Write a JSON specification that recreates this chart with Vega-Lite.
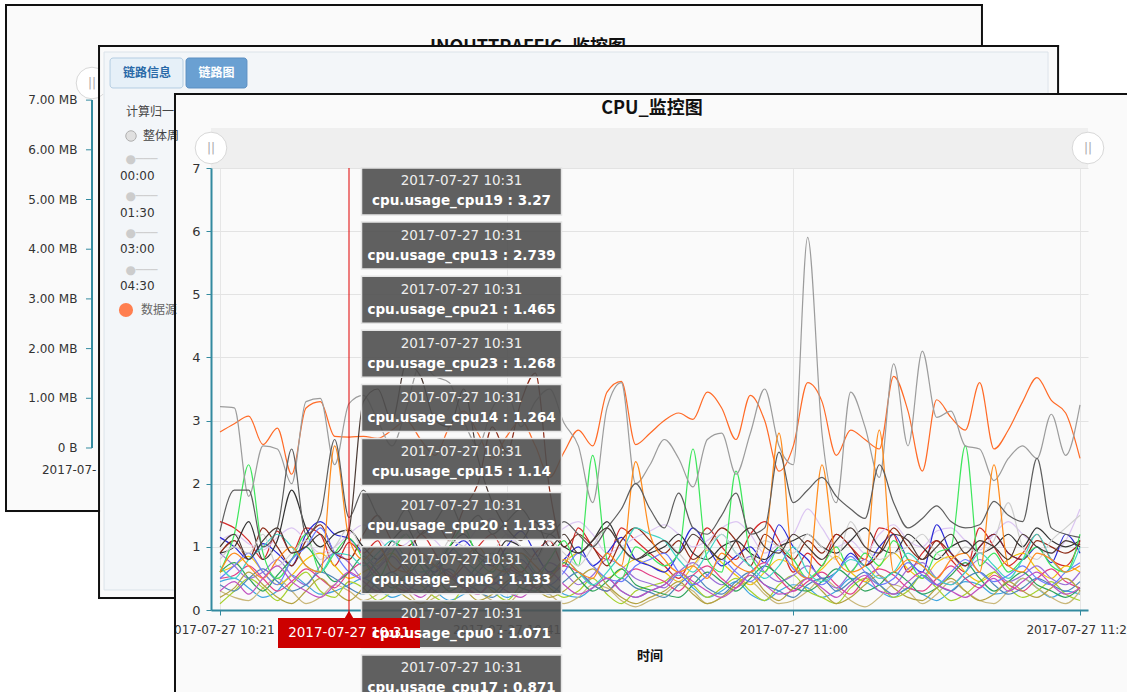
{
"$schema": "https://vega.github.io/schema/vega-lite/v6.json",
"width": 877,
"height": 442,
"autosize": {"type": "none"},
"padding": {"left": 211, "top": 168, "right": 39, "bottom": 82},
"background": "#fafafa",
"config": {"view": {"stroke": null}, "font": "DejaVu Sans"},
"data": {"values": [{}]},
"resolve": {"scale": {"y": "independent"}},
"layer": [
{"layer": [
  {"mark": {"type": "rect", "fill": "#ffffff"}, "encoding": {"x": {"datum": 53.23}, "x2": {"datum": 64}, "y": {"datum": 9.9, "scale": {"domain": [0, 7], "nice": false, "zero": false}, "axis": null}, "y2": {"datum": 8.948}}},
  {"mark": {"type": "rect", "fill": "#ffffff"}, "encoding": {"x": {"datum": 58.54}, "x2": {"datum": 64}, "y": {"datum": 9.9}, "y2": {"datum": 8.19}}},
  {"mark": {"type": "rect", "fill": "#ffffff"}, "encoding": {"x": {"datum": -16}, "x2": {"datum": -8.51}, "y": {"datum": 1.536}, "y2": {"datum": -1.6}}},
  {"mark": {"type": "rect", "fill": "#ffffff"}, "encoding": {"x": {"datum": -8.51}, "x2": {"datum": -3.21}, "y": {"datum": 0.158}, "y2": {"datum": -1.6}}},
  {"mark": {"type": "rect", "fill": "#ffffff"}, "encoding": {"x": {"datum": -16}, "x2": {"datum": 64}, "y": {"datum": 9.9}, "y2": {"datum": 9.597}}},
  {"mark": {"type": "rect", "fill": "#ffffff"}, "encoding": {"x": {"datum": -16}, "x2": {"datum": -15.0}, "y": {"datum": 9.9}, "y2": {"datum": -1.6}}},
  {"mark": {"type": "rule", "color": "#111111", "strokeWidth": 2, "strokeCap": "square"}, "encoding": {"x": {"datum": -14.93}, "x2": {"datum": 53.16}, "y": {"datum": 9.581}}},
  {"mark": {"type": "rule", "color": "#111111", "strokeWidth": 2, "strokeCap": "square"}, "encoding": {"x": {"datum": -14.93}, "y": {"datum": 9.581}, "y2": {"datum": 1.568}}},
  {"mark": {"type": "rule", "color": "#111111", "strokeWidth": 2, "strokeCap": "square"}, "encoding": {"x": {"datum": -14.93}, "x2": {"datum": -8.44}, "y": {"datum": 1.568}}},
  {"mark": {"type": "rule", "color": "#111111", "strokeWidth": 2, "strokeCap": "square"}, "encoding": {"x": {"datum": 53.16}, "y": {"datum": 9.581}, "y2": {"datum": 8.932}}}
]},
{"layer": [
  {"data": {"values": [{"mb": 0, "lab": "0 B"}, {"mb": 1, "lab": "1.00 MB"}, {"mb": 2, "lab": "2.00 MB"}, {"mb": 3, "lab": "3.00 MB"}, {"mb": 4, "lab": "4.00 MB"}, {"mb": 5, "lab": "5.00 MB"}, {"mb": 6, "lab": "6.00 MB"}, {"mb": 7, "lab": "7.00 MB"}]},
   "layer": [
    {"mark": {"type": "text", "align": "right", "baseline": "middle", "fontSize": 12, "font": "DejaVu Sans", "color": "#333333"},
     "encoding": {"x": {"datum": -9.95}, "y": {"field": "mb", "type": "quantitative", "scale": {"domain": [-3.26, 5.634], "nice": false, "zero": false}, "axis": null}, "text": {"field": "lab"}}},
    {"mark": {"type": "rule", "color": "#338a9f", "strokeWidth": 1},
     "encoding": {"x": {"datum": -9.35}, "x2": {"datum": -8.93}, "y": {"field": "mb", "type": "quantitative"}}}
   ]},
  {"mark": {"type": "rule", "color": "#338a9f", "strokeWidth": 2}, "encoding": {"x": {"datum": -8.93}, "y": {"datum": 0}, "y2": {"datum": 7}}},
  {"mark": {"type": "point", "shape": "circle", "size": 1000, "filled": true, "fill": "#ffffff", "stroke": "#d8d8d8", "strokeWidth": 1, "opacity": 1}, "encoding": {"x": {"datum": -8.93}, "y": {"datum": 7.344}}},
  {"mark": {"type": "text", "text": "||", "fontSize": 12, "color": "#aaaaaa", "align": "center", "baseline": "middle"}, "encoding": {"x": {"datum": -8.93}, "y": {"datum": 7.344}}},
  {"mark": {"type": "text", "text": "2017-07-", "fontSize": 12, "color": "#333333", "align": "left", "baseline": "middle"}, "encoding": {"x": {"datum": -12.42}, "y": {"datum": -0.443}}},
  {"mark": {"type": "text", "text": "INOUTTRAFFIC_监控图", "font": "Noto Sans CJK SC", "fontSize": 18, "fontWeight": "bold", "color": "#111111", "align": "center", "baseline": "alphabetic"}, "encoding": {"x": {"datum": 21.49}, "y": {"datum": 7.95}}}
]},
{"layer": [
  {"mark": {"type": "rect", "fill": "#fafafa"},
   "encoding": {"x": {"datum": -8.44}, "x2": {"datum": 58.47}, "y": {"datum": 8.932, "scale": {"domain": [0, 7], "nice": false, "zero": false}}, "y2": {"datum": 8.172}}},
  {"mark": {"type": "rect", "fill": "#f3f6f9"},
   "encoding": {"x": {"datum": -8.09}, "x2": {"datum": 57.77}, "y": {"datum": 8.837}, "y2": {"datum": 8.172}}},
  {"mark": {"type": "rect", "fill": "#f3f6f9"},
   "encoding": {"x": {"datum": -8.09}, "x2": {"datum": -3.14}, "y": {"datum": 8.172}, "y2": {"datum": 0.317}}},
  {"mark": {"type": "rule", "color": "#dce3ea", "strokeWidth": 1}, "encoding": {"x": {"datum": -8.09}, "x2": {"datum": 57.77}, "y": {"datum": 8.837}}},
  {"mark": {"type": "rule", "color": "#dce3ea", "strokeWidth": 1}, "encoding": {"x": {"datum": -8.09}, "y": {"datum": 8.837}, "y2": {"datum": 0.317}}},
  {"mark": {"type": "rule", "color": "#dce3ea", "strokeWidth": 1}, "encoding": {"x": {"datum": -8.09}, "x2": {"datum": -3.14}, "y": {"datum": 0.317}}},
  {"mark": {"type": "rule", "color": "#dce3ea", "strokeWidth": 1}, "encoding": {"x": {"datum": 57.77}, "y": {"datum": 8.837}, "y2": {"datum": 8.172}}},
  {"mark": {"type": "rect", "fill": "#e6f0f8", "stroke": "#b4cde2", "strokeWidth": 1, "cornerRadius": 3},
   "encoding": {"x": {"datum": -7.67}, "x2": {"datum": -2.58}, "y": {"datum": 8.742}, "y2": {"datum": 8.267}}},
  {"mark": {"type": "rect", "fill": "#6aa0d2", "stroke": "#5b8fc2", "strokeWidth": 1, "cornerRadius": 3},
   "encoding": {"x": {"datum": -2.37}, "x2": {"datum": 1.88}, "y": {"datum": 8.742}, "y2": {"datum": 8.267}}},
  {"mark": {"type": "text", "text": "链路信息", "font": "Noto Sans CJK SC", "fontSize": 12, "fontWeight": "bold", "color": "#2a6aa8", "align": "center", "baseline": "middle"}, "encoding": {"x": {"datum": -5.09}, "y": {"datum": 8.505}}},
  {"mark": {"type": "text", "text": "链路图", "font": "Noto Sans CJK SC", "fontSize": 12, "fontWeight": "bold", "color": "#ffffff", "align": "center", "baseline": "middle"}, "encoding": {"x": {"datum": -0.24}, "y": {"datum": 8.505}}},
  {"mark": {"type": "text", "text": "计算归一", "font": "Noto Sans CJK SC", "fontSize": 12, "color": "#444444", "align": "left", "baseline": "middle"}, "encoding": {"x": {"datum": -6.56}, "y": {"datum": 7.887}}},
  {"mark": {"type": "point", "shape": "circle", "size": 110, "filled": true, "fill": "#e0e0e0", "stroke": "#b0b0b0", "strokeWidth": 1, "opacity": 1}, "encoding": {"x": {"datum": -6.21}, "y": {"datum": 7.507}}},
  {"mark": {"type": "text", "text": "整体周", "font": "Noto Sans CJK SC", "fontSize": 12, "color": "#444444", "align": "left", "baseline": "middle"}, "encoding": {"x": {"datum": -5.37}, "y": {"datum": 7.507}}},
  {"mark": {"type": "text", "text": "●───\n●───\n●───\n●───", "lineBreak": "\n", "lineHeight": 37, "font": "DejaVu Sans", "fontSize": 12, "color": "#cccccc", "align": "left", "baseline": "middle"}, "encoding": {"x": {"datum": -6.6}, "y": {"datum": 7.143}}},
  {"mark": {"type": "text", "text": "00:00\n01:30\n03:00\n04:30", "lineBreak": "\n", "lineHeight": 36.7, "font": "DejaVu Sans", "fontSize": 12, "color": "#333333", "align": "left", "baseline": "middle"}, "encoding": {"x": {"datum": -6.98}, "y": {"datum": 6.873}}},
  {"mark": {"type": "point", "shape": "circle", "size": 200, "filled": true, "fill": "#ff7f50", "opacity": 1}, "encoding": {"x": {"datum": -6.56}, "y": {"datum": 4.751}}},
  {"mark": {"type": "text", "text": "数据源", "font": "Noto Sans CJK SC", "fontSize": 12, "color": "#666666", "align": "left", "baseline": "middle"}, "encoding": {"x": {"datum": -5.51}, "y": {"datum": 4.751}}},
  {"mark": {"type": "rule", "color": "#111111", "strokeWidth": 2, "strokeCap": "square"}, "encoding": {"x": {"datum": -8.44}, "x2": {"datum": 58.47}, "y": {"datum": 8.932}}},
  {"mark": {"type": "rule", "color": "#111111", "strokeWidth": 2, "strokeCap": "square"}, "encoding": {"x": {"datum": -8.44}, "y": {"datum": 8.932}, "y2": {"datum": 0.19}}},
  {"mark": {"type": "rule", "color": "#111111", "strokeWidth": 2, "strokeCap": "square"}, "encoding": {"x": {"datum": -8.44}, "x2": {"datum": -3.14}, "y": {"datum": 0.19}}},
  {"mark": {"type": "rule", "color": "#111111", "strokeWidth": 2, "strokeCap": "square"}, "encoding": {"x": {"datum": 58.47}, "y": {"datum": 8.932}, "y2": {"datum": 8.172}}},
  {"mark": {"type": "rule", "color": "#111111", "strokeWidth": 2, "strokeCap": "square"}, "encoding": {"x": {"datum": -3.14}, "x2": {"datum": 64}, "y": {"datum": 8.172}}},
  {"mark": {"type": "rule", "color": "#111111", "strokeWidth": 2, "strokeCap": "square"}, "encoding": {"x": {"datum": -3.14}, "y": {"datum": 8.172}, "y2": {"datum": -1.6}}},
  {"mark": {"type": "text", "text": "CPU_监控图", "font": "Noto Sans CJK SC", "fontSize": 18, "fontWeight": "bold", "color": "#111111", "align": "center", "baseline": "middle"}, "encoding": {"x": {"datum": 30.14}, "y": {"datum": 7.934}}},
  {"mark": {"type": "rect", "fill": "#efefef"},
   "encoding": {"x": {"datum": -0.628}, "x2": {"datum": 60.558}, "y": {"datum": 7.634}, "y2": {"datum": 7.0}}},
  {"mark": {"type": "point", "shape": "circle", "size": 1000, "filled": true, "fill": "#ffffff", "stroke": "#d8d8d8", "strokeWidth": 1, "opacity": 1}, "encoding": {"x": {"datum": -0.628}, "y": {"datum": 7.317}}},
  {"mark": {"type": "point", "shape": "circle", "size": 1000, "filled": true, "fill": "#ffffff", "stroke": "#d8d8d8", "strokeWidth": 1, "opacity": 1}, "encoding": {"x": {"datum": 60.558}, "y": {"datum": 7.317}}},
  {"mark": {"type": "text", "text": "||", "fontSize": 12, "color": "#aaaaaa", "align": "center", "baseline": "middle"}, "encoding": {"x": {"datum": -0.628}, "y": {"datum": 7.317}}},
  {"mark": {"type": "text", "text": "||", "fontSize": 12, "color": "#aaaaaa", "align": "center", "baseline": "middle"}, "encoding": {"x": {"datum": 60.558}, "y": {"datum": 7.317}}},
  {"data": {"values": [
{"i":0,"cpu0":1.4,"cpu1":0.45,"cpu2":1.1,"cpu3":0.6,"cpu4":0.3,"cpu5":0.1,"cpu6":1.15,"cpu7":0.5,"cpu8":0.9,"cpu9":0.6,"cpu10":0.4,"cpu11":0.2,"cpu12":0.9,"cpu13":2.82,"cpu14":0.9,"cpu15":0.6,"cpu16":0.5,"cpu17":0.7,"cpu18":0.8,"cpu19":3.22,"cpu20":0.6,"cpu21":1.25,"cpu22":0.3,"cpu23":1.0},
{"i":1,"cpu0":1.3,"cpu1":0.5,"cpu2":1.2,"cpu3":0.7,"cpu4":0.2,"cpu5":0.3,"cpu6":1.0,"cpu7":0.55,"cpu8":0.7,"cpu9":0.75,"cpu10":0.3,"cpu11":0.35,"cpu12":1.1,"cpu13":2.95,"cpu14":1.0,"cpu15":1.2,"cpu16":0.7,"cpu17":0.5,"cpu18":1.0,"cpu19":3.2,"cpu20":0.9,"cpu21":1.9,"cpu22":0.45,"cpu23":1.2},
{"i":2,"cpu0":1.1,"cpu1":0.35,"cpu2":1.05,"cpu3":0.85,"cpu4":0.15,"cpu5":0.5,"cpu6":0.8,"cpu7":0.7,"cpu8":0.5,"cpu9":0.5,"cpu10":0.5,"cpu11":0.6,"cpu12":0.8,"cpu13":3.07,"cpu14":1.4,"cpu15":2.3,"cpu16":0.9,"cpu17":0.8,"cpu18":0.9,"cpu19":1.8,"cpu20":0.7,"cpu21":1.9,"cpu22":0.25,"cpu23":0.8},
{"i":3,"cpu0":0.8,"cpu1":0.2,"cpu2":0.95,"cpu3":0.6,"cpu4":0.35,"cpu5":0.35,"cpu6":1.05,"cpu7":0.5,"cpu8":0.6,"cpu9":0.3,"cpu10":0.65,"cpu11":0.4,"cpu12":1.3,"cpu13":2.62,"cpu14":0.8,"cpu15":0.9,"cpu16":0.6,"cpu17":1.0,"cpu18":1.2,"cpu19":2.6,"cpu20":0.5,"cpu21":1.0,"cpu22":0.5,"cpu23":1.1},
{"i":4,"cpu0":1.25,"cpu1":0.3,"cpu2":1.15,"cpu3":0.4,"cpu4":0.5,"cpu5":0.15,"cpu6":0.9,"cpu7":0.3,"cpu8":0.8,"cpu9":0.55,"cpu10":0.45,"cpu11":0.2,"cpu12":1.0,"cpu13":2.88,"cpu14":1.1,"cpu15":0.5,"cpu16":0.4,"cpu17":1.2,"cpu18":0.7,"cpu19":2.55,"cpu20":0.8,"cpu21":1.3,"cpu22":0.7,"cpu23":1.3},
{"i":5,"cpu0":0.9,"cpu1":0.55,"cpu2":1.3,"cpu3":0.55,"cpu4":0.3,"cpu5":0.4,"cpu6":0.7,"cpu7":0.45,"cpu8":0.55,"cpu9":0.8,"cpu10":0.3,"cpu11":0.1,"cpu12":0.7,"cpu13":2.15,"cpu14":1.9,"cpu15":0.8,"cpu16":0.8,"cpu17":1.0,"cpu18":0.9,"cpu19":2.0,"cpu20":1.0,"cpu21":2.55,"cpu22":0.45,"cpu23":0.9},
{"i":6,"cpu0":1.3,"cpu1":0.4,"cpu2":1.1,"cpu3":0.8,"cpu4":0.1,"cpu5":0.6,"cpu6":1.2,"cpu7":0.65,"cpu8":0.4,"cpu9":1.0,"cpu10":0.4,"cpu11":0.3,"cpu12":1.1,"cpu13":3.2,"cpu14":1.3,"cpu15":1.2,"cpu16":1.0,"cpu17":0.7,"cpu18":1.1,"cpu19":3.3,"cpu20":0.7,"cpu21":1.2,"cpu22":0.3,"cpu23":1.0},
{"i":7,"cpu0":1.2,"cpu1":0.25,"cpu2":0.9,"cpu3":0.9,"cpu4":0.2,"cpu5":0.3,"cpu6":1.4,"cpu7":0.5,"cpu8":0.7,"cpu9":0.7,"cpu10":0.6,"cpu11":0.5,"cpu12":1.35,"cpu13":3.3,"cpu14":1.0,"cpu15":0.6,"cpu16":1.3,"cpu17":0.6,"cpu18":0.8,"cpu19":3.35,"cpu20":0.6,"cpu21":1.5,"cpu22":0.2,"cpu23":1.2},
{"i":8,"cpu0":0.7,"cpu1":0.3,"cpu2":1.0,"cpu3":0.7,"cpu4":0.4,"cpu5":0.2,"cpu6":1.2,"cpu7":0.35,"cpu8":0.9,"cpu9":0.45,"cpu10":0.5,"cpu11":0.3,"cpu12":0.9,"cpu13":2.75,"cpu14":1.2,"cpu15":0.9,"cpu16":0.9,"cpu17":0.9,"cpu18":1.0,"cpu19":2.3,"cpu20":2.6,"cpu21":2.7,"cpu22":0.4,"cpu23":0.9},
{"i":9,"cpu0":1.071,"cpu1":0.4,"cpu2":1.2,"cpu3":0.5,"cpu4":0.3,"cpu5":0.45,"cpu6":1.133,"cpu7":0.6,"cpu8":0.75,"cpu9":0.6,"cpu10":0.35,"cpu11":0.15,"cpu12":0.8,"cpu13":2.739,"cpu14":1.264,"cpu15":1.14,"cpu16":0.6,"cpu17":0.871,"cpu18":1.3,"cpu19":3.27,"cpu20":1.133,"cpu21":1.465,"cpu22":0.6,"cpu23":1.268},
{"i":10,"cpu0":0.9,"cpu1":0.5,"cpu2":1.35,"cpu3":0.6,"cpu4":0.15,"cpu5":0.35,"cpu6":0.9,"cpu7":0.75,"cpu8":0.5,"cpu9":0.85,"cpu10":0.25,"cpu11":0.35,"cpu12":1.2,"cpu13":2.75,"cpu14":1.0,"cpu15":0.8,"cpu16":0.5,"cpu17":0.7,"cpu18":0.9,"cpu19":3.4,"cpu20":0.8,"cpu21":1.9,"cpu22":0.45,"cpu23":3.3},
{"i":11,"cpu0":1.1,"cpu1":0.35,"cpu2":1.15,"cpu3":0.75,"cpu4":0.25,"cpu5":0.15,"cpu6":0.7,"cpu7":0.55,"cpu8":0.65,"cpu9":0.6,"cpu10":0.45,"cpu11":0.55,"cpu12":1.5,"cpu13":2.72,"cpu14":0.8,"cpu15":0.5,"cpu16":0.8,"cpu17":0.9,"cpu18":0.7,"cpu19":3.0,"cpu20":1.0,"cpu21":1.5,"cpu22":0.3,"cpu23":3.5},
{"i":12,"cpu0":0.6,"cpu1":0.2,"cpu2":0.95,"cpu3":0.9,"cpu4":0.45,"cpu5":0.3,"cpu6":1.0,"cpu7":0.4,"cpu8":0.85,"cpu9":0.35,"cpu10":0.6,"cpu11":0.4,"cpu12":1.1,"cpu13":2.85,"cpu14":1.1,"cpu15":0.9,"cpu16":1.0,"cpu17":1.1,"cpu18":1.0,"cpu19":2.6,"cpu20":0.7,"cpu21":1.3,"cpu22":0.5,"cpu23":3.0},
{"i":13,"cpu0":0.8,"cpu1":0.3,"cpu2":1.05,"cpu3":0.65,"cpu4":0.3,"cpu5":0.55,"cpu6":1.2,"cpu7":0.3,"cpu8":0.6,"cpu9":0.5,"cpu10":0.4,"cpu11":0.2,"cpu12":1.0,"cpu13":3.0,"cpu14":1.3,"cpu15":1.2,"cpu16":0.7,"cpu17":0.8,"cpu18":1.2,"cpu19":3.2,"cpu20":0.6,"cpu21":1.6,"cpu22":0.35,"cpu23":3.9},
{"i":14,"cpu0":1.2,"cpu1":0.45,"cpu2":1.25,"cpu3":0.45,"cpu4":0.1,"cpu5":0.4,"cpu6":0.8,"cpu7":0.5,"cpu8":0.45,"cpu9":0.75,"cpu10":0.3,"cpu11":0.1,"cpu12":1.2,"cpu13":2.7,"cpu14":0.9,"cpu15":0.7,"cpu16":0.5,"cpu17":0.6,"cpu18":0.9,"cpu19":3.9,"cpu20":0.9,"cpu21":1.2,"cpu22":0.2,"cpu23":3.7},
{"i":15,"cpu0":0.9,"cpu1":0.3,"cpu2":1.1,"cpu3":0.6,"cpu4":0.2,"cpu5":0.2,"cpu6":0.6,"cpu7":0.7,"cpu8":0.7,"cpu9":0.55,"cpu10":0.5,"cpu11":0.3,"cpu12":1.4,"cpu13":2.45,"cpu14":0.7,"cpu15":0.5,"cpu16":0.6,"cpu17":0.7,"cpu18":0.7,"cpu19":3.7,"cpu20":0.7,"cpu21":1.4,"cpu22":0.4,"cpu23":3.0},
{"i":16,"cpu0":0.5,"cpu1":0.15,"cpu2":0.9,"cpu3":0.85,"cpu4":0.35,"cpu5":0.1,"cpu6":0.9,"cpu7":0.6,"cpu8":0.55,"cpu9":0.3,"cpu10":0.65,"cpu11":0.5,"cpu12":1.1,"cpu13":2.9,"cpu14":1.0,"cpu15":1.0,"cpu16":0.9,"cpu17":1.0,"cpu18":1.1,"cpu19":3.6,"cpu20":0.5,"cpu21":1.7,"cpu22":0.55,"cpu23":2.9},
{"i":17,"cpu0":0.7,"cpu1":0.25,"cpu2":1.0,"cpu3":0.7,"cpu4":0.5,"cpu5":0.35,"cpu6":1.1,"cpu7":0.4,"cpu8":0.35,"cpu9":0.45,"cpu10":0.45,"cpu11":0.35,"cpu12":1.6,"cpu13":3.15,"cpu14":1.2,"cpu15":1.3,"cpu16":0.7,"cpu17":0.8,"cpu18":1.0,"cpu19":3.0,"cpu20":0.8,"cpu21":1.3,"cpu22":0.35,"cpu23":3.5},
{"i":18,"cpu0":1.0,"cpu1":0.4,"cpu2":1.3,"cpu3":0.5,"cpu4":0.3,"cpu5":0.5,"cpu6":0.85,"cpu7":0.25,"cpu8":0.6,"cpu9":0.7,"cpu10":0.3,"cpu11":0.15,"cpu12":2.0,"cpu13":2.8,"cpu14":0.9,"cpu15":0.8,"cpu16":0.5,"cpu17":0.6,"cpu18":0.8,"cpu19":2.6,"cpu20":1.0,"cpu21":1.5,"cpu22":0.25,"cpu23":2.4},
{"i":19,"cpu0":1.2,"cpu1":0.35,"cpu2":1.45,"cpu3":0.65,"cpu4":0.15,"cpu5":0.3,"cpu6":0.7,"cpu7":0.45,"cpu8":0.8,"cpu9":0.9,"cpu10":0.2,"cpu11":0.25,"cpu12":2.9,"cpu13":2.4,"cpu14":0.8,"cpu15":0.6,"cpu16":0.4,"cpu17":0.5,"cpu18":0.9,"cpu19":3.2,"cpu20":0.7,"cpu21":1.2,"cpu22":0.45,"cpu23":1.7},
{"i":20,"cpu0":0.8,"cpu1":0.2,"cpu2":1.2,"cpu3":0.8,"cpu4":0.1,"cpu5":0.15,"cpu6":1.0,"cpu7":0.65,"cpu8":0.65,"cpu9":0.6,"cpu10":0.4,"cpu11":0.45,"cpu12":2.5,"cpu13":2.75,"cpu14":1.1,"cpu15":0.9,"cpu16":0.6,"cpu17":0.7,"cpu18":1.2,"cpu19":3.45,"cpu20":0.6,"cpu21":1.4,"cpu22":0.3,"cpu23":1.3},
{"i":21,"cpu0":0.6,"cpu1":0.3,"cpu2":1.0,"cpu3":0.6,"cpu4":0.3,"cpu5":0.4,"cpu6":1.25,"cpu7":0.55,"cpu8":0.45,"cpu9":0.35,"cpu10":0.55,"cpu11":0.6,"cpu12":3.3,"cpu13":3.0,"cpu14":1.0,"cpu15":0.7,"cpu16":0.8,"cpu17":0.9,"cpu18":1.0,"cpu19":2.9,"cpu20":0.9,"cpu21":1.6,"cpu22":0.2,"cpu23":1.1},
{"i":22,"cpu0":0.9,"cpu1":0.5,"cpu2":0.95,"cpu3":0.4,"cpu4":0.45,"cpu5":0.6,"cpu6":0.9,"cpu7":0.35,"cpu8":0.55,"cpu9":0.3,"cpu10":0.35,"cpu11":0.35,"cpu12":3.75,"cpu13":2.6,"cpu14":0.8,"cpu15":0.5,"cpu16":0.55,"cpu17":0.6,"cpu18":0.8,"cpu19":3.3,"cpu20":0.7,"cpu21":1.3,"cpu22":0.4,"cpu23":1.4},
{"i":23,"cpu0":1.1,"cpu1":0.4,"cpu2":1.1,"cpu3":0.55,"cpu4":0.25,"cpu5":0.35,"cpu6":0.6,"cpu7":0.5,"cpu8":0.75,"cpu9":0.55,"cpu10":0.25,"cpu11":0.2,"cpu12":1.9,"cpu13":2.1,"cpu14":1.2,"cpu15":0.8,"cpu16":0.4,"cpu17":0.5,"cpu18":1.1,"cpu19":3.5,"cpu20":0.5,"cpu21":1.2,"cpu22":0.6,"cpu23":1.0},
{"i":24,"cpu0":0.7,"cpu1":0.25,"cpu2":1.3,"cpu3":0.75,"cpu4":0.1,"cpu5":0.2,"cpu6":0.8,"cpu7":0.7,"cpu8":0.6,"cpu9":0.75,"cpu10":0.45,"cpu11":0.3,"cpu12":1.0,"cpu13":2.5,"cpu14":1.0,"cpu15":1.1,"cpu16":0.6,"cpu17":0.8,"cpu18":0.9,"cpu19":2.96,"cpu20":0.8,"cpu21":1.4,"cpu22":0.4,"cpu23":1.2},
{"i":25,"cpu0":1.3,"cpu1":0.2,"cpu2":1.4,"cpu3":0.9,"cpu4":0.2,"cpu5":0.3,"cpu6":1.0,"cpu7":0.6,"cpu8":0.4,"cpu9":0.5,"cpu10":0.6,"cpu11":0.5,"cpu12":1.2,"cpu13":2.85,"cpu14":0.9,"cpu15":0.7,"cpu16":0.9,"cpu17":0.6,"cpu18":0.7,"cpu19":2.6,"cpu20":0.6,"cpu21":1.2,"cpu22":0.25,"cpu23":0.9},
{"i":26,"cpu0":1.0,"cpu1":0.35,"cpu2":1.2,"cpu3":0.7,"cpu4":0.4,"cpu5":0.5,"cpu6":0.7,"cpu7":0.4,"cpu8":0.55,"cpu9":0.3,"cpu10":0.4,"cpu11":0.65,"cpu12":1.0,"cpu13":2.6,"cpu14":1.1,"cpu15":2.45,"cpu16":0.7,"cpu17":0.4,"cpu18":1.0,"cpu19":1.7,"cpu20":0.5,"cpu21":1.0,"cpu22":0.35,"cpu23":1.1},
{"i":27,"cpu0":0.8,"cpu1":0.5,"cpu2":0.9,"cpu3":0.5,"cpu4":0.35,"cpu5":0.25,"cpu6":0.9,"cpu7":0.3,"cpu8":0.8,"cpu9":0.45,"cpu10":0.3,"cpu11":0.4,"cpu12":0.7,"cpu13":3.45,"cpu14":1.4,"cpu15":0.8,"cpu16":0.5,"cpu17":0.6,"cpu18":1.3,"cpu19":3.2,"cpu20":0.9,"cpu21":1.3,"cpu22":0.5,"cpu23":1.3},
{"i":28,"cpu0":1.3,"cpu1":0.3,"cpu2":1.0,"cpu3":0.65,"cpu4":0.15,"cpu5":0.1,"cpu6":1.15,"cpu7":0.5,"cpu8":0.7,"cpu9":0.65,"cpu10":0.5,"cpu11":0.2,"cpu12":1.1,"cpu13":3.62,"cpu14":1.0,"cpu15":0.5,"cpu16":0.45,"cpu17":0.9,"cpu18":1.0,"cpu19":3.6,"cpu20":0.7,"cpu21":1.6,"cpu22":0.3,"cpu23":1.0},
{"i":29,"cpu0":1.1,"cpu1":0.2,"cpu2":1.15,"cpu3":0.8,"cpu4":0.05,"cpu5":0.3,"cpu6":0.8,"cpu7":0.65,"cpu8":0.5,"cpu9":0.4,"cpu10":0.35,"cpu11":0.1,"cpu12":1.3,"cpu13":2.62,"cpu14":0.8,"cpu15":1.0,"cpu16":0.7,"cpu17":1.3,"cpu18":0.8,"cpu19":2.0,"cpu20":2.35,"cpu21":2.0,"cpu22":0.2,"cpu23":0.8},
{"i":30,"cpu0":0.9,"cpu1":0.3,"cpu2":1.25,"cpu3":0.7,"cpu4":0.15,"cpu5":0.38,"cpu6":0.7,"cpu7":0.55,"cpu8":0.42,"cpu9":0.32,"cpu10":0.28,"cpu11":0.2,"cpu12":1.1,"cpu13":2.8,"cpu14":0.9,"cpu15":0.85,"cpu16":0.8,"cpu17":1.2,"cpu18":0.95,"cpu19":2.3,"cpu20":1.2,"cpu21":1.6,"cpu22":0.3,"cpu23":0.95},
{"i":31,"cpu0":0.7,"cpu1":0.4,"cpu2":1.35,"cpu3":0.6,"cpu4":0.25,"cpu5":0.45,"cpu6":0.6,"cpu7":0.45,"cpu8":0.35,"cpu9":0.25,"cpu10":0.2,"cpu11":0.3,"cpu12":0.9,"cpu13":3.0,"cpu14":1.0,"cpu15":0.7,"cpu16":0.9,"cpu17":1.1,"cpu18":1.1,"cpu19":2.7,"cpu20":0.8,"cpu21":1.3,"cpu22":0.4,"cpu23":1.1},
{"i":32,"cpu0":0.5,"cpu1":0.55,"cpu2":1.2,"cpu3":0.45,"cpu4":0.4,"cpu5":0.6,"cpu6":0.9,"cpu7":0.3,"cpu8":0.6,"cpu9":0.2,"cpu10":0.4,"cpu11":0.45,"cpu12":1.1,"cpu13":3.12,"cpu14":1.2,"cpu15":0.9,"cpu16":0.6,"cpu17":0.8,"cpu18":0.9,"cpu19":2.4,"cpu20":0.6,"cpu21":1.85,"cpu22":0.6,"cpu23":0.9},
{"i":33,"cpu0":0.9,"cpu1":0.35,"cpu2":1.0,"cpu3":0.7,"cpu4":0.3,"cpu5":0.4,"cpu6":1.3,"cpu7":0.55,"cpu8":0.75,"cpu9":0.4,"cpu10":0.55,"cpu11":0.25,"cpu12":0.8,"cpu13":3.02,"cpu14":0.9,"cpu15":2.55,"cpu16":0.4,"cpu17":0.6,"cpu18":0.7,"cpu19":1.95,"cpu20":0.7,"cpu21":1.3,"cpu22":0.45,"cpu23":1.2},
{"i":34,"cpu0":1.3,"cpu1":0.2,"cpu2":1.1,"cpu3":0.95,"cpu4":0.1,"cpu5":0.2,"cpu6":1.0,"cpu7":0.7,"cpu8":0.55,"cpu9":0.6,"cpu10":0.35,"cpu11":0.1,"cpu12":1.0,"cpu13":3.45,"cpu14":0.8,"cpu15":0.8,"cpu16":0.55,"cpu17":0.9,"cpu18":1.0,"cpu19":2.7,"cpu20":0.5,"cpu21":1.2,"cpu22":0.3,"cpu23":1.0},
{"i":35,"cpu0":1.0,"cpu1":0.3,"cpu2":1.3,"cpu3":0.75,"cpu4":0.2,"cpu5":0.35,"cpu6":0.7,"cpu7":0.5,"cpu8":0.4,"cpu9":0.45,"cpu10":0.25,"cpu11":0.2,"cpu12":1.3,"cpu13":3.2,"cpu14":1.0,"cpu15":0.6,"cpu16":0.8,"cpu17":1.2,"cpu18":1.2,"cpu19":2.8,"cpu20":0.9,"cpu21":1.5,"cpu22":0.2,"cpu23":0.8},
{"i":36,"cpu0":0.8,"cpu1":0.45,"cpu2":1.4,"cpu3":0.55,"cpu4":0.35,"cpu5":0.5,"cpu6":0.85,"cpu7":0.35,"cpu8":0.65,"cpu9":0.3,"cpu10":0.45,"cpu11":0.4,"cpu12":1.1,"cpu13":2.7,"cpu14":1.1,"cpu15":2.2,"cpu16":0.6,"cpu17":0.9,"cpu18":0.9,"cpu19":2.15,"cpu20":0.7,"cpu21":1.85,"cpu22":0.35,"cpu23":1.1},
{"i":37,"cpu0":1.2,"cpu1":0.25,"cpu2":1.2,"cpu3":0.4,"cpu4":0.45,"cpu5":0.3,"cpu6":1.0,"cpu7":0.6,"cpu8":0.85,"cpu9":0.5,"cpu10":0.6,"cpu11":0.55,"cpu12":0.7,"cpu13":3.4,"cpu14":0.9,"cpu15":0.9,"cpu16":0.45,"cpu17":0.7,"cpu18":0.8,"cpu19":2.8,"cpu20":0.6,"cpu21":1.2,"cpu22":0.55,"cpu23":1.3},
{"i":38,"cpu0":1.4,"cpu1":0.15,"cpu2":0.9,"cpu3":0.6,"cpu4":0.25,"cpu5":0.15,"cpu6":0.75,"cpu7":0.75,"cpu8":0.6,"cpu9":0.7,"cpu10":0.4,"cpu11":0.3,"cpu12":1.2,"cpu13":3.0,"cpu14":0.8,"cpu15":0.6,"cpu16":0.7,"cpu17":0.5,"cpu18":1.1,"cpu19":3.5,"cpu20":1.0,"cpu21":1.3,"cpu22":0.4,"cpu23":1.0},
{"i":39,"cpu0":1.1,"cpu1":0.3,"cpu2":1.05,"cpu3":0.8,"cpu4":0.1,"cpu5":0.4,"cpu6":1.35,"cpu7":0.5,"cpu8":0.45,"cpu9":0.55,"cpu10":0.3,"cpu11":0.15,"cpu12":1.0,"cpu13":2.2,"cpu14":1.0,"cpu15":1.0,"cpu16":0.95,"cpu17":0.7,"cpu18":1.0,"cpu19":2.6,"cpu20":2.8,"cpu21":2.5,"cpu22":0.25,"cpu23":0.9},
{"i":40,"cpu0":0.6,"cpu1":0.4,"cpu2":1.2,"cpu3":0.7,"cpu4":0.15,"cpu5":0.55,"cpu6":1.0,"cpu7":0.3,"cpu8":0.55,"cpu9":0.35,"cpu10":0.2,"cpu11":0.35,"cpu12":0.8,"cpu13":2.6,"cpu14":1.1,"cpu15":0.8,"cpu16":0.65,"cpu17":1.0,"cpu18":0.9,"cpu19":2.3,"cpu20":0.7,"cpu21":1.7,"cpu22":0.3,"cpu23":1.2},
{"i":41,"cpu0":0.9,"cpu1":0.35,"cpu2":1.6,"cpu3":0.5,"cpu4":0.3,"cpu5":0.3,"cpu6":0.8,"cpu7":0.45,"cpu8":0.7,"cpu9":0.3,"cpu10":0.4,"cpu11":0.5,"cpu12":1.1,"cpu13":3.6,"cpu14":1.2,"cpu15":0.5,"cpu16":0.5,"cpu17":0.6,"cpu18":1.2,"cpu19":5.9,"cpu20":0.5,"cpu21":1.9,"cpu22":0.5,"cpu23":1.0},
{"i":42,"cpu0":0.7,"cpu1":0.2,"cpu2":1.3,"cpu3":0.65,"cpu4":0.5,"cpu5":0.2,"cpu6":0.5,"cpu7":0.6,"cpu8":0.5,"cpu9":0.45,"cpu10":0.5,"cpu11":0.3,"cpu12":0.9,"cpu13":3.3,"cpu14":1.0,"cpu15":0.7,"cpu16":0.4,"cpu17":0.45,"cpu18":1.0,"cpu19":2.8,"cpu20":2.3,"cpu21":2.1,"cpu22":0.35,"cpu23":0.8},
{"i":43,"cpu0":1.2,"cpu1":0.3,"cpu2":1.0,"cpu3":0.85,"cpu4":0.35,"cpu5":0.1,"cpu6":0.6,"cpu7":0.4,"cpu8":0.35,"cpu9":0.65,"cpu10":0.3,"cpu11":0.1,"cpu12":1.2,"cpu13":2.45,"cpu14":0.9,"cpu15":1.0,"cpu16":0.6,"cpu17":0.6,"cpu18":0.8,"cpu19":1.7,"cpu20":0.8,"cpu21":1.8,"cpu22":0.2,"cpu23":1.1},
{"i":44,"cpu0":1.0,"cpu1":0.5,"cpu2":1.1,"cpu3":0.6,"cpu4":0.15,"cpu5":0.35,"cpu6":0.9,"cpu7":0.25,"cpu8":0.6,"cpu9":0.5,"cpu10":0.45,"cpu11":0.2,"cpu12":1.0,"cpu13":2.85,"cpu14":1.1,"cpu15":0.6,"cpu16":0.85,"cpu17":0.8,"cpu18":1.4,"cpu19":3.45,"cpu20":0.6,"cpu21":1.6,"cpu22":0.4,"cpu23":1.3},
{"i":45,"cpu0":0.8,"cpu1":0.45,"cpu2":0.9,"cpu3":0.45,"cpu4":0.05,"cpu5":0.5,"cpu6":0.7,"cpu7":0.5,"cpu8":0.8,"cpu9":0.3,"cpu10":0.6,"cpu11":0.4,"cpu12":0.7,"cpu13":2.7,"cpu14":1.3,"cpu15":0.9,"cpu16":0.6,"cpu17":0.7,"cpu18":1.0,"cpu19":2.9,"cpu20":0.7,"cpu21":1.45,"cpu22":0.55,"cpu23":1.0},
{"i":46,"cpu0":1.3,"cpu1":0.3,"cpu2":1.2,"cpu3":0.7,"cpu4":0.2,"cpu5":0.4,"cpu6":1.0,"cpu7":0.65,"cpu8":0.55,"cpu9":0.4,"cpu10":0.4,"cpu11":0.55,"cpu12":0.9,"cpu13":2.55,"cpu14":1.0,"cpu15":0.7,"cpu16":0.4,"cpu17":0.5,"cpu18":0.8,"cpu19":2.1,"cpu20":2.85,"cpu21":2.3,"cpu22":0.3,"cpu23":0.9},
{"i":47,"cpu0":1.2,"cpu1":0.2,"cpu2":1.35,"cpu3":0.9,"cpu4":0.4,"cpu5":0.2,"cpu6":1.2,"cpu7":0.55,"cpu8":0.4,"cpu9":0.6,"cpu10":0.25,"cpu11":0.35,"cpu12":1.3,"cpu13":3.7,"cpu14":0.9,"cpu15":1.1,"cpu16":0.5,"cpu17":0.6,"cpu18":0.9,"cpu19":3.9,"cpu20":0.6,"cpu21":1.7,"cpu22":0.25,"cpu23":1.2},
{"i":48,"cpu0":0.6,"cpu1":0.35,"cpu2":1.1,"cpu3":0.65,"cpu4":0.3,"cpu5":0.3,"cpu6":0.8,"cpu7":0.35,"cpu8":0.65,"cpu9":0.45,"cpu10":0.35,"cpu11":0.2,"cpu12":1.0,"cpu13":3.15,"cpu14":1.2,"cpu15":0.8,"cpu16":0.75,"cpu17":0.9,"cpu18":1.0,"cpu19":2.6,"cpu20":0.8,"cpu21":1.3,"cpu22":0.45,"cpu23":1.1},
{"i":49,"cpu0":0.9,"cpu1":0.25,"cpu2":1.0,"cpu3":0.5,"cpu4":0.1,"cpu5":0.55,"cpu6":0.6,"cpu7":0.3,"cpu8":0.75,"cpu9":0.25,"cpu10":0.55,"cpu11":0.15,"cpu12":0.8,"cpu13":2.2,"cpu14":1.0,"cpu15":0.5,"cpu16":0.55,"cpu17":0.7,"cpu18":1.2,"cpu19":4.1,"cpu20":0.7,"cpu21":1.45,"cpu22":0.6,"cpu23":0.8},
{"i":50,"cpu0":1.1,"cpu1":0.15,"cpu2":1.25,"cpu3":0.75,"cpu4":0.25,"cpu5":0.35,"cpu6":1.35,"cpu7":0.5,"cpu8":0.5,"cpu9":0.35,"cpu10":0.4,"cpu11":0.35,"cpu12":1.1,"cpu13":3.33,"cpu14":0.8,"cpu15":0.9,"cpu16":0.4,"cpu17":0.5,"cpu18":0.9,"cpu19":3.05,"cpu20":0.5,"cpu21":1.65,"cpu22":0.4,"cpu23":1.0},
{"i":51,"cpu0":0.8,"cpu1":0.3,"cpu2":1.3,"cpu3":0.85,"cpu4":0.45,"cpu5":0.15,"cpu6":0.9,"cpu7":0.7,"cpu8":0.4,"cpu9":0.55,"cpu10":0.3,"cpu11":0.5,"cpu12":0.9,"cpu13":3.05,"cpu14":1.0,"cpu15":1.0,"cpu16":0.6,"cpu17":0.4,"cpu18":0.8,"cpu19":3.15,"cpu20":0.8,"cpu21":1.4,"cpu22":0.3,"cpu23":1.2},
{"i":52,"cpu0":0.6,"cpu1":0.45,"cpu2":1.1,"cpu3":0.6,"cpu4":0.3,"cpu5":0.25,"cpu6":0.7,"cpu7":0.5,"cpu8":0.6,"cpu9":0.75,"cpu10":0.5,"cpu11":0.3,"cpu12":0.7,"cpu13":2.85,"cpu14":1.1,"cpu15":2.6,"cpu16":0.8,"cpu17":0.6,"cpu18":1.0,"cpu19":2.6,"cpu20":0.9,"cpu21":1.3,"cpu22":0.2,"cpu23":0.9},
{"i":53,"cpu0":1.3,"cpu1":0.4,"cpu2":0.95,"cpu3":0.45,"cpu4":0.15,"cpu5":0.45,"cpu6":1.0,"cpu7":0.35,"cpu8":0.8,"cpu9":0.5,"cpu10":0.6,"cpu11":0.15,"cpu12":1.0,"cpu13":3.6,"cpu14":0.9,"cpu15":0.7,"cpu16":0.6,"cpu17":0.9,"cpu18":0.9,"cpu19":2.55,"cpu20":0.6,"cpu21":1.35,"cpu22":0.35,"cpu23":1.1},
{"i":54,"cpu0":1.0,"cpu1":0.25,"cpu2":1.2,"cpu3":0.6,"cpu4":0.1,"cpu5":0.6,"cpu6":1.2,"cpu7":0.55,"cpu8":0.65,"cpu9":0.3,"cpu10":0.4,"cpu11":0.25,"cpu12":1.2,"cpu13":2.55,"cpu14":1.0,"cpu15":0.9,"cpu16":0.45,"cpu17":0.7,"cpu18":1.1,"cpu19":2.05,"cpu20":2.3,"cpu21":1.72,"cpu22":0.5,"cpu23":1.0},
{"i":55,"cpu0":0.7,"cpu1":0.3,"cpu2":1.4,"cpu3":0.8,"cpu4":0.3,"cpu5":0.35,"cpu6":0.9,"cpu7":0.4,"cpu8":0.45,"cpu9":0.45,"cpu10":0.25,"cpu11":0.45,"cpu12":0.9,"cpu13":2.85,"cpu14":1.2,"cpu15":0.6,"cpu16":0.55,"cpu17":0.5,"cpu18":1.7,"cpu19":2.4,"cpu20":0.7,"cpu21":1.5,"cpu22":0.3,"cpu23":0.8},
{"i":56,"cpu0":0.9,"cpu1":0.5,"cpu2":1.2,"cpu3":0.9,"cpu4":0.5,"cpu5":0.2,"cpu6":0.8,"cpu7":0.3,"cpu8":0.55,"cpu9":0.6,"cpu10":0.35,"cpu11":0.3,"cpu12":0.8,"cpu13":3.3,"cpu14":1.0,"cpu15":0.8,"cpu16":0.7,"cpu17":0.8,"cpu18":1.0,"cpu19":2.6,"cpu20":0.6,"cpu21":1.4,"cpu22":0.45,"cpu23":1.2},
{"i":57,"cpu0":1.2,"cpu1":0.35,"cpu2":1.0,"cpu3":0.65,"cpu4":0.35,"cpu5":0.3,"cpu6":1.0,"cpu7":0.5,"cpu8":0.7,"cpu9":0.4,"cpu10":0.5,"cpu11":0.2,"cpu12":1.1,"cpu13":3.68,"cpu14":1.3,"cpu15":1.0,"cpu16":0.5,"cpu17":1.2,"cpu18":0.8,"cpu19":2.4,"cpu20":0.9,"cpu21":2.4,"cpu22":0.6,"cpu23":1.0},
{"i":58,"cpu0":0.8,"cpu1":0.2,"cpu2":0.9,"cpu3":0.5,"cpu4":0.2,"cpu5":0.45,"cpu6":0.75,"cpu7":0.65,"cpu8":0.5,"cpu9":0.3,"cpu10":0.4,"cpu11":0.35,"cpu12":1.0,"cpu13":3.32,"cpu14":1.1,"cpu15":0.7,"cpu16":0.4,"cpu17":0.8,"cpu18":1.1,"cpu19":3.1,"cpu20":0.8,"cpu21":1.3,"cpu22":0.4,"cpu23":0.9},
{"i":59,"cpu0":0.7,"cpu1":0.3,"cpu2":1.1,"cpu3":0.7,"cpu4":0.1,"cpu5":0.25,"cpu6":1.2,"cpu7":0.45,"cpu8":0.4,"cpu9":0.2,"cpu10":0.3,"cpu11":0.5,"cpu12":0.9,"cpu13":3.12,"cpu14":1.0,"cpu15":0.6,"cpu16":0.6,"cpu17":0.6,"cpu18":1.3,"cpu19":2.45,"cpu20":0.6,"cpu21":1.2,"cpu22":0.25,"cpu23":1.1},
{"i":60,"cpu0":1.1,"cpu1":0.25,"cpu2":1.6,"cpu3":0.6,"cpu4":0.3,"cpu5":0.15,"cpu6":0.9,"cpu7":0.35,"cpu8":0.6,"cpu9":0.35,"cpu10":0.45,"cpu11":0.3,"cpu12":1.05,"cpu13":2.4,"cpu14":1.1,"cpu15":1.2,"cpu16":0.75,"cpu17":1.0,"cpu18":1.5,"cpu19":3.25,"cpu20":0.7,"cpu21":1.15,"cpu22":0.35,"cpu23":1.0}
   ]},
   "transform": [{"fold": ["cpu0","cpu1","cpu2","cpu3","cpu4","cpu5","cpu6","cpu7","cpu8","cpu9","cpu10","cpu11","cpu12","cpu13","cpu14","cpu15","cpu16","cpu17","cpu18","cpu19","cpu20","cpu21","cpu22","cpu23"], "as": ["series", "value"]}],
   "mark": {"type": "line", "interpolate": "monotone", "strokeWidth": 1.2},
   "encoding": {
    "x": {"field": "i", "type": "quantitative", "scale": {"domain": [-0.628, 60.558], "nice": false, "zero": false},
      "axis": {"values": [0, 20, 40, 60], "labelExpr": "datum.value == 0 ? '2017-07-27 10:21' : datum.value == 20 ? '2017-07-27 10:41' : datum.value == 40 ? '2017-07-27 11:00' : '2017-07-27 11:20'", "labelFont": "DejaVu Sans", "labelFontSize": 12, "labelColor": "#333333", "labelFlush": false, "labelOverlap": false, "labelPadding": 9, "domainColor": "#338a9f", "domainWidth": 2, "tickColor": "#338a9f", "tickSize": 5, "grid": true, "gridColor": "#e6e6e6", "title": "时间", "titleFont": "Noto Sans CJK SC", "titleFontSize": 13, "titleFontWeight": "bold", "titleColor": "#111111", "titlePadding": 14}},
    "y": {"field": "value", "type": "quantitative", "scale": {"domain": [0, 7], "nice": false, "zero": false},
      "axis": {"orient": "left", "values": [0, 1, 2, 3, 4, 5, 6, 7], "format": "d", "labelFont": "DejaVu Sans", "labelFontSize": 13, "labelColor": "#333333", "labelPadding": 6, "domainColor": "#338a9f", "domainWidth": 2, "tickColor": "#338a9f", "tickSize": 5, "grid": true, "gridColor": "#e3e3e3", "title": null}},
    "color": {"field": "series", "type": "nominal", "legend": null,
      "scale": {"domain": ["cpu0","cpu1","cpu2","cpu3","cpu4","cpu5","cpu6","cpu7","cpu8","cpu9","cpu10","cpu11","cpu12","cpu13","cpu14","cpu15","cpu16","cpu17","cpu18","cpu19","cpu20","cpu21","cpu22","cpu23"],
        "range": ["#d42a2a","#3fa6e0","#dcc6f2","#f2c40f","#c9b77a","#a6d12e","#2b2bd6","#e23f86","#9b6fd8","#2fa35c","#4d86b8","#b3a241","#8c2a16","#ff6a26","#333333","#3ee65c","#6a7bff","#3fd4c4","#cfcfcf","#9c9c9c","#ff8b1c","#5e5e5e","#c050c0","#4a3a34"]}}
   }},
  {"mark": {"type": "rule", "color": "#e00000", "strokeWidth": 1}, "encoding": {"x": {"datum": 9}, "y": {"datum": 7}, "y2": {"datum": -0.05}}}
]},
{"data": {"values": [
  {"rank": 0, "t": "2017-07-27 10:31", "label": "cpu.usage_cpu19 : 3.27"},
  {"rank": 1, "t": "2017-07-27 10:31", "label": "cpu.usage_cpu13 : 2.739"},
  {"rank": 2, "t": "2017-07-27 10:31", "label": "cpu.usage_cpu21 : 1.465"},
  {"rank": 3, "t": "2017-07-27 10:31", "label": "cpu.usage_cpu23 : 1.268"},
  {"rank": 4, "t": "2017-07-27 10:31", "label": "cpu.usage_cpu14 : 1.264"},
  {"rank": 5, "t": "2017-07-27 10:31", "label": "cpu.usage_cpu15 : 1.14"},
  {"rank": 6, "t": "2017-07-27 10:31", "label": "cpu.usage_cpu20 : 1.133"},
  {"rank": 7, "t": "2017-07-27 10:31", "label": "cpu.usage_cpu6 : 1.133"},
  {"rank": 8, "t": "2017-07-27 10:31", "label": "cpu.usage_cpu0 : 1.071"},
  {"rank": 9, "t": "2017-07-27 10:31", "label": "cpu.usage_cpu17 : 0.871"}
 ]},
 "mark": {"type": "point", "shape": "M-1,-0.235L1,-0.235L1,0.235L-1,0.235Z", "size": 40000, "filled": true, "fill": "#4f4f4f", "fillOpacity": 0.9, "stroke": "#e4e4e4", "strokeWidth": 1.5, "opacity": 1},
 "encoding": {"x": {"datum": 16.85}, "y": {"field": "rank", "type": "quantitative", "scale": {"domain": [-0.434, 7.736], "reverse": true, "nice": false, "zero": false}, "axis": null}}},
{"layer": [
  {"mark": {"type": "point", "shape": "M-1,-0.211L1,-0.211L1,0.211L-1,0.211Z", "size": 20164, "filled": true, "fill": "#cc0000", "opacity": 1}, "encoding": {"x": {"datum": 9}, "y": {"datum": -0.364, "scale": {"domain": [0, 7], "nice": false, "zero": false}, "axis": null}}},
  {"mark": {"type": "point", "shape": "triangle-up", "size": 70, "filled": true, "fill": "#cc0000", "opacity": 1}, "encoding": {"x": {"datum": 9}, "y": {"datum": -0.07}}},
  {"mark": {"type": "text", "text": "2017-07-27 10:31", "font": "DejaVu Sans", "fontSize": 13.5, "color": "#ffffff", "align": "center", "baseline": "middle"}, "encoding": {"x": {"datum": 9}, "y": {"datum": -0.364}}}
]},
{"data": {"values": [
  {"rank": 0, "t": "2017-07-27 10:31", "label": "cpu.usage_cpu19 : 3.27"},
  {"rank": 1, "t": "2017-07-27 10:31", "label": "cpu.usage_cpu13 : 2.739"},
  {"rank": 2, "t": "2017-07-27 10:31", "label": "cpu.usage_cpu21 : 1.465"},
  {"rank": 3, "t": "2017-07-27 10:31", "label": "cpu.usage_cpu23 : 1.268"},
  {"rank": 4, "t": "2017-07-27 10:31", "label": "cpu.usage_cpu14 : 1.264"},
  {"rank": 5, "t": "2017-07-27 10:31", "label": "cpu.usage_cpu15 : 1.14"},
  {"rank": 6, "t": "2017-07-27 10:31", "label": "cpu.usage_cpu20 : 1.133"},
  {"rank": 7, "t": "2017-07-27 10:31", "label": "cpu.usage_cpu6 : 1.133"},
  {"rank": 8, "t": "2017-07-27 10:31", "label": "cpu.usage_cpu0 : 1.071"},
  {"rank": 9, "t": "2017-07-27 10:31", "label": "cpu.usage_cpu17 : 0.871"}
 ]},
 "layer": [
  {"mark": {"type": "text", "font": "DejaVu Sans", "fontSize": 13.5, "color": "#eeeeee", "align": "center", "baseline": "middle", "dy": -10},
   "encoding": {"x": {"datum": 16.85}, "y": {"field": "rank", "type": "quantitative", "scale": {"domain": [-0.434, 7.736], "reverse": true, "nice": false, "zero": false}, "axis": null}, "text": {"field": "t"}}},
  {"mark": {"type": "text", "font": "DejaVu Sans", "fontSize": 13.5, "fontWeight": "bold", "color": "#ffffff", "align": "center", "baseline": "middle", "dy": 10},
   "encoding": {"x": {"datum": 16.85}, "y": {"field": "rank", "type": "quantitative"}, "text": {"field": "label"}}}
 ]}
]
}
